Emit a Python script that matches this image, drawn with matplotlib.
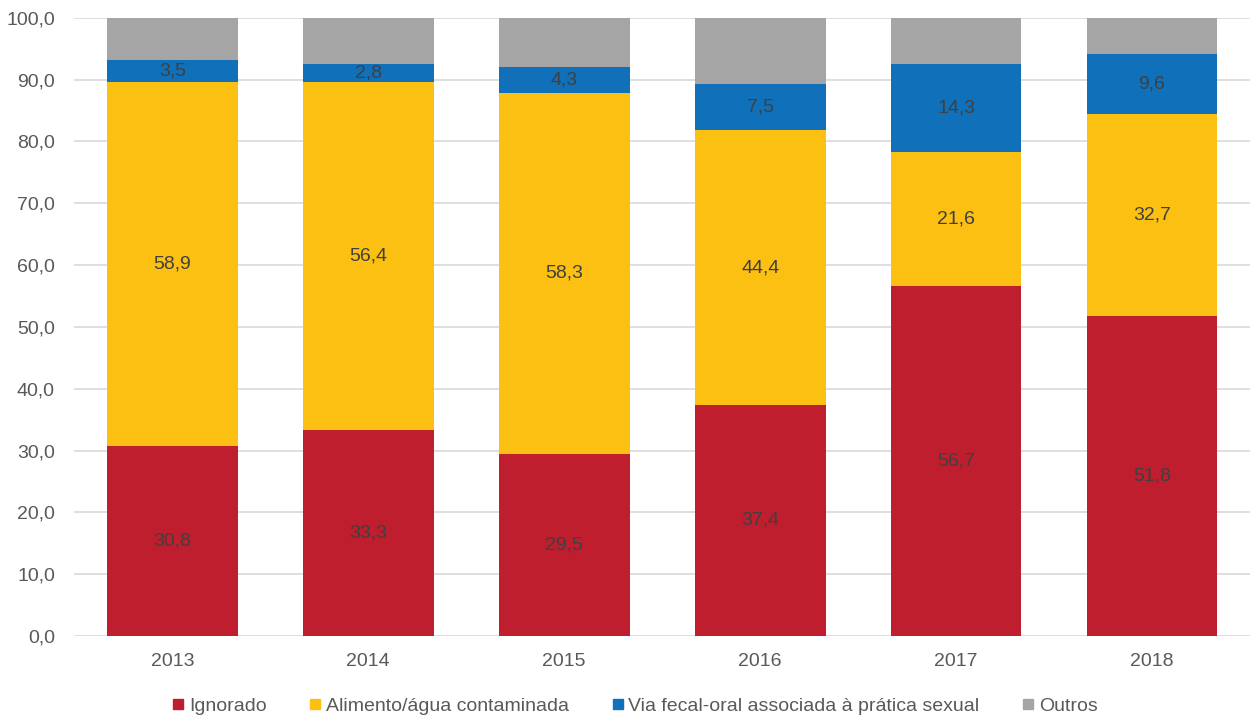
import matplotlib
matplotlib.use("Agg")
import matplotlib.pyplot as plt
from matplotlib.lines import Line2D
import numpy as np

plt.rcParams['font.family'] = ['Liberation Sans', 'DejaVu Sans']

years = ["2013", "2014", "2015", "2016", "2017", "2018"]
ignorado = [30.8, 33.3, 29.5, 37.4, 56.7, 51.8]
alimento = [58.9, 56.4, 58.3, 44.4, 21.6, 32.7]
fecal_oral = [3.5, 2.8, 4.3, 7.5, 14.3, 9.6]
outros = [6.8, 7.5, 7.9, 10.7, 7.4, 5.9]

series = [
    ("Ignorado", ignorado, "#BE1E2D", True),
    ("Alimento/água contaminada", alimento, "#FBC012", True),
    ("Via fecal-oral associada à prática sexual", fecal_oral, "#1170BA", True),
    ("Outros", outros, "#A5A5A5", False),
]

fig = plt.figure(figsize=(12.5, 7.15), dpi=100)
ax = fig.add_axes([0.0595, 0.1105, 0.9405, 0.8645])

x = np.arange(len(years))
bottom = np.zeros(len(years))
handles = []
for name, vals, color, labelled in series:
    vals = np.array(vals)
    ax.bar(x, vals, bottom=bottom, width=0.667, color=color, zorder=3)
    if labelled:
        for xi, b, v in zip(x, bottom, vals):
            ax.text(xi, b + v / 2, f"{v:.1f}".replace(".", ","), ha="center", va="center",
                    fontsize=14, color="#404040", zorder=4)
    bottom += vals
    handles.append(Line2D([], [], marker="s", linestyle="none", markersize=7.5,
                          markerfacecolor=color, markeredgecolor=color, label=name))

ax.set_xlim(-0.5, len(years) - 0.5)
ax.set_ylim(0, 100)
ax.set_yticks(np.arange(0, 101, 10))
ax.set_yticklabels([f"{v:.1f}".replace(".", ",") for v in np.arange(0, 101, 10)])
ax.set_xticks(x)
ax.set_xticklabels(years)
ax.tick_params(axis="both", length=0, labelsize=14, labelcolor="#595959")
ax.tick_params(axis="y", pad=14)
ax.tick_params(axis="x", pad=12)
ax.grid(axis="y", color="#D9D9D9", linewidth=1.2, zorder=0)
for s in ax.spines.values():
    s.set_visible(False)

fig.legend(handles=handles, loc="lower center", bbox_to_anchor=(0.508, -0.024), ncol=4,
           frameon=False, fontsize=14, handlelength=0.6, handletextpad=0.25,
           columnspacing=2.2, labelcolor="#595959")

fig.savefig("out.png", dpi=100)
